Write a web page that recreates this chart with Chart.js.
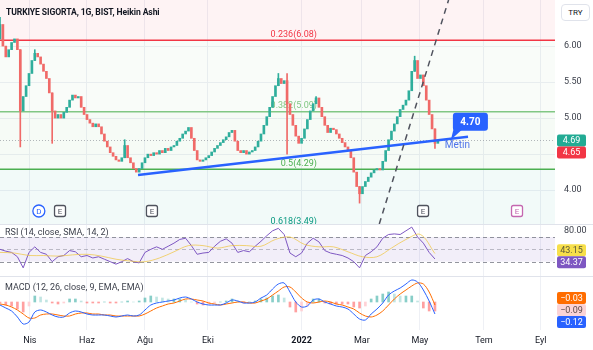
<!DOCTYPE html>
<html>
<head>
<meta charset="utf-8">
<title>TURKIYE SIGORTA, 1G, BIST</title>
<script src="https://cdn.jsdelivr.net/npm/chart.js"></script>
<style>
  body { margin: 0; background: #fff; font-family: Roboto, sans-serif; }
  #wrap { position: relative; width: 593px; height: 350px; overflow: hidden; }
  .pane { position: absolute; left: 0; width: 593px; }
  .txt { position: absolute; white-space: nowrap; color: #131722; }
  .sep { position: absolute; left: 0; width: 593px; height: 1px; background: #e0e3eb; }
</style>
</head>
<body>
<div id="wrap">
  <div class="pane" style="top:0;height:224px"><canvas id="price"></canvas></div>
  <div class="pane" style="top:225px;height:51px"><canvas id="rsi"></canvas></div>
  <div class="pane" style="top:277px;height:73px"><canvas id="macd"></canvas></div>
  <div class="sep" style="top:224px"></div>
  <div class="sep" style="top:276px"></div>
  <div class="txt" style="left:6px;top:7px;font-size:8.6px;font-weight:700;letter-spacing:-0.1px">TURKIYE SIGORTA, 1G, BIST, Heikin Ashi</div>
  <div class="txt" style="left:561px;top:4px;width:27px;height:15px;line-height:15px;text-align:center;font-size:8px;border:1px solid #e0e3eb;border-radius:4px;background:#fff">TRY</div>
  <div class="txt" style="left:5px;top:227px;font-size:9px;color:#3b3f4a">RSI (14, close, SMA, 14, 2)</div>
  <div class="txt" style="left:5px;top:282px;font-size:9px;color:#3b3f4a">MACD (12, 26, close, 9, EMA, EMA)</div>
</div>
<script>
// daily bars, two sessions per candle
const haClose = [
  6.30, 6.00, 5.85, 5.95, 6.05, 6.10, 5.95, 5.10, 5.30, 5.45,
  5.62, 5.80, 5.90, 5.85, 5.75, 5.65, 5.55, 5.35, 5.10, 5.00,
  5.05, 5.00, 5.08, 5.15, 5.25, 5.32, 5.28, 5.30, 5.15, 5.05,
  4.98, 4.93, 4.88, 4.92, 4.88, 4.78, 4.68, 4.60, 4.52, 4.47,
  4.42, 4.40, 4.45, 4.62, 4.45, 4.38, 4.30, 4.25, 4.30, 4.38,
  4.45, 4.50, 4.48, 4.52, 4.50, 4.55, 4.52, 4.58, 4.55, 4.60,
  4.62, 4.68, 4.72, 4.78, 4.82, 4.87, 4.72, 4.55, 4.42, 4.40,
  4.42, 4.45, 4.48, 4.53, 4.58, 4.62, 4.66, 4.70, 4.74, 4.80,
  4.83, 4.68, 4.55, 4.52, 4.55, 4.50, 4.53, 4.55, 4.60, 4.68,
  4.78, 4.90, 5.02, 5.15, 5.30, 5.45, 5.55, 5.48, 5.52, 5.20,
  5.05, 4.90, 4.75, 4.65, 4.72, 4.85, 4.98, 5.10, 5.20, 5.28,
  5.15, 5.02, 4.90, 4.80, 4.86, 4.84, 4.78, 4.72, 4.66, 4.60,
  4.55, 4.45, 4.25, 4.05, 3.95, 4.05, 4.12, 4.18, 4.24, 4.28,
  4.30, 4.28, 4.40, 4.55, 4.70, 4.82, 4.92, 5.02, 5.12, 5.18,
  5.25, 5.38, 5.65, 5.80, 5.55, 5.60, 5.45, 5.25, 5.05, 4.85,
  4.65, 4.69
];
const firstOpen = 6.10;
const lastClose = 4.65;
const wickLows = [[7, 4.60], [18, 4.65], [99, 4.50], [124, 3.82], [150, 4.58]];
const wickHighs = [[0, 6.40], [12, 5.95], [43, 4.70], [96, 5.62], [99, 5.62], [109, 5.30], [143, 5.86]];

// fibonacci retracement levels
const fibRatios = [0.236, 0.382, 0.5, 0.618];
const fibPrices = [6.08, 5.09, 4.29, 3.49];
const fibLabelAt = 109.3;

// drawings
const trendX = [47.6, 161.4];
const trendY = [4.21, 4.74];
const dashX = [130.8, 154.7];
const dashY = [3.53, 6.64];
const calloutX = 155.5;
const calloutValue = 4.70;
const noteX = 153.4;
const noteY = 4.62;
const noteText = 'Metin';
const eventX = [13.4, 20.7, 52.4, 145.9, 178.3];
const eventText = ['D', 'E', 'E', 'E', 'E'];

// x axis
const monthTicks = [10.3, 30, 50, 71.7, 104, 124.8, 144.8, 166.9, 186.5];
const monthLabels = ['Nis', 'Haz', 'Ağu', 'Eki', '2022', 'Mar', 'May', 'Tem', 'Eyl'];
const priceTicks = [4, 4.5, 5, 5.5, 6];

// RSI (every 2 candles) and its SMA (every 5 candles)
const rsiValues = [
  50, 47, 45, 38, 20, 45, 54, 45, 42, 30,
  38, 40, 48, 46, 38, 40, 36, 38, 34, 30,
  26, 30, 35, 30, 28, 45, 50, 54, 50, 55,
  60, 66, 68, 56, 42, 44, 45, 55, 63, 67,
  60, 45, 48, 46, 55, 63, 72, 80, 84, 74,
  44, 38, 44, 60, 68, 62, 48, 44, 42, 40,
  36, 30, 20, 40, 46, 54, 68, 74, 75, 74,
  80, 86, 70, 60, 45, 34.37
];
const rsiSma = [
  45, 44, 40, 40, 39, 41, 42, 39, 34, 31,
  30, 36, 46, 56, 56, 52, 56, 56, 55, 66,
  70, 58, 54, 54, 46, 38, 38, 52, 66, 74,
  43.15
];
const rsiLevels = [70, 50, 30];
const rsiTicks = [80];

// MACD (every 2 candles)
const macdValues = [
  -0.03, -0.06, -0.09, -0.15, -0.22, -0.20, -0.10, -0.08, -0.10, -0.13,
  -0.15, -0.15, -0.11, -0.09, -0.10, -0.12, -0.13, -0.13, -0.13, -0.14,
  -0.15, -0.14, -0.13, -0.14, -0.13, -0.08, -0.03, -0.01, 0.00, 0.01,
  0.02, 0.04, 0.05, 0.03, 0.00, -0.02, -0.03, -0.03, -0.03, -0.01,
  0.02, 0.01, -0.01, -0.01, 0.00, 0.04, 0.07, 0.13, 0.18, 0.19,
  0.10, 0.00, -0.05, -0.04, 0.02, 0.03, 0.00, -0.02, -0.04, -0.05,
  -0.07, -0.12, -0.17, -0.18, -0.12, -0.07, -0.01, 0.07, 0.11, 0.14,
  0.18, 0.22, 0.20, 0.12, 0.01, -0.12
];
const signalValues = [
  -0.02, -0.03, -0.05, -0.08, -0.12, -0.16, -0.16, -0.13, -0.12, -0.12,
  -0.13, -0.14, -0.14, -0.12, -0.11, -0.11, -0.12, -0.12, -0.13, -0.13,
  -0.14, -0.14, -0.14, -0.14, -0.14, -0.12, -0.09, -0.06, -0.04, -0.02,
  -0.01, 0.01, 0.03, 0.03, 0.02, 0.01, -0.01, -0.02, -0.03, -0.02,
  -0.01, 0.00, 0.00, -0.01, -0.01, 0.01, 0.03, 0.07, 0.11, 0.15,
  0.15, 0.10, 0.04, 0.00, -0.01, 0.00, 0.01, 0.00, -0.02, -0.03,
  -0.05, -0.07, -0.11, -0.14, -0.15, -0.13, -0.09, -0.03, 0.03, 0.08,
  0.12, 0.16, 0.19, 0.18, 0.10, -0.03
];
const histValues = [
  -0.01, -0.03, -0.04, -0.07, -0.10, -0.04, 0.06, 0.05, 0.02, -0.01,
  -0.02, -0.01, 0.03, 0.03, 0.01, -0.01, -0.01, -0.01, 0.00, -0.01,
  -0.01, 0.00, 0.01, 0.00, 0.01, 0.04, 0.06, 0.05, 0.04, 0.03,
  0.03, 0.03, 0.02, 0.00, -0.02, -0.03, -0.02, -0.01, 0.00, 0.01,
  0.03, 0.01, -0.01, 0.00, 0.01, 0.03, 0.04, 0.06, 0.07, 0.04,
  -0.05, -0.10, -0.09, -0.04, 0.03, 0.03, -0.01, -0.02, -0.02, -0.02,
  -0.02, -0.05, -0.06, -0.04, 0.03, 0.06, 0.08, 0.10, 0.08, 0.06,
  0.06, 0.06, 0.01, -0.06, -0.09, -0.09
];

const X_MAX = 191.4;
const UP = '#2fae9c', DOWN = '#f06a68';
const GRID = '#eef0f5', TEXT = '#3b3f4a';
const fibColors = ['#f23645', '#81c784', '#4caf50', '#089981'];
const zoneColors = ['rgba(242,54,69,0.06)', 'rgba(129,199,132,0.05)', 'rgba(76,175,80,0.05)', 'rgba(8,153,129,0.05)'];

Chart.defaults.font.family = 'Roboto, sans-serif';
Chart.defaults.animation = false;
Chart.defaults.plugins.legend.display = false;
Chart.defaults.plugins.tooltip.enabled = false;

function xScale(showLabels) {
  return {
    type: 'linear', min: 0, max: X_MAX, offset: false,
    afterBuildTicks: s => { s.ticks = monthTicks.map(v => ({ value: v })); },
    afterFit: s => { s.height = showLabels ? 20 : 0; s.paddingLeft = 0; s.paddingRight = 0; },
    grid: { color: GRID, drawTicks: false, offset: false },
    border: { display: false },
    ticks: {
      display: showLabels, autoSkip: false, maxRotation: 0, padding: 5, color: '#131722',
      font: c => ({ size: 9, weight: c.index === 4 ? 'bold' : 'normal' }),
      callback: (v, i) => monthLabels[i]
    }
  };
}

function yScale(min, max, ticks, fmt, showGrid) {
  return {
    position: 'right', min, max,
    afterBuildTicks: s => { s.ticks = ticks.map(v => ({ value: v })); },
    afterFit: s => { s.width = 38; s.paddingTop = 0; s.paddingBottom = 0; },
    grid: { display: showGrid, color: GRID, drawTicks: false },
    border: { display: false },
    ticks: { padding: 9, color: TEXT, font: { size: 9 }, callback: fmt }
  };
}

function tag(ctx, x, yc, text, bg, fg) {
  ctx.fillStyle = bg;
  ctx.beginPath();
  ctx.roundRect(x, yc - 6, 29, 12, 2);
  ctx.fill();
  ctx.fillStyle = fg;
  ctx.font = '9px Roboto';
  ctx.textAlign = 'center';
  ctx.textBaseline = 'middle';
  ctx.fillText(text, x + 14.5, yc + 0.5);
}

function spread(ys, h) {
  const m = ys.reduce((a, b) => a + b, 0) / ys.length;
  return ys.map((_, k) => m + (k - (ys.length - 1) / 2) * h);
}

const fmtNeg = v => (v < 0 ? '\u2212' : '') + Math.abs(v).toFixed(2);

// candles
const opens = haClose.map((c, i) => i === 0 ? firstOpen : haClose[i - 1]);
const bodies = haClose.map((c, i) => ({ x: i, y: [opens[i], c] }));
const bodyColors = haClose.map((c, i) => c >= opens[i] ? UP : DOWN);
const wicks = [];
haClose.forEach((c, i) => {
  const lo = wickLows.find(w => w[0] === i);
  const hi = wickHighs.find(w => w[0] === i);
  if (!lo && !hi) return;
  wicks.push({ x: i, y: [lo ? lo[1] : Math.min(opens[i], c), hi ? hi[1] : Math.max(opens[i], c)] });
});
const wickColors = wicks.map(w => bodyColors[w.x]);

const priceDecor = {
  id: 'priceDecor',
  beforeDatasetsDraw(chart) {
    const { ctx, chartArea: a, scales: { x, y } } = chart;
    ctx.save();
    ctx.beginPath();
    ctx.rect(a.left, a.top, a.width, a.height);
    ctx.clip();
    fibPrices.forEach((p, k) => {
      const top = y.getPixelForValue(k === 0 ? y.max : fibPrices[k - 1]);
      const bot = y.getPixelForValue(p);
      ctx.fillStyle = zoneColors[k];
      ctx.fillRect(a.left, top, a.width, bot - top);
    });
    ctx.font = '9px Roboto';
    ctx.textAlign = 'right';
    ctx.textBaseline = 'bottom';
    fibPrices.forEach((p, k) => {
      ctx.fillStyle = fibColors[k];
      ctx.fillText(fibRatios[k] + '(' + p.toFixed(2) + ')', x.getPixelForValue(fibLabelAt), y.getPixelForValue(p) - 1);
    });
    // last price line
    const yp = Math.round(y.getPixelForValue(haClose[haClose.length - 1])) + 0.5;
    ctx.strokeStyle = 'rgba(120,123,134,0.55)';
    ctx.setLineDash([1, 2]);
    ctx.lineWidth = 1;
    ctx.beginPath();
    ctx.moveTo(a.left, yp);
    ctx.lineTo(a.right, yp);
    ctx.stroke();
    ctx.restore();
  },
  afterDatasetsDraw(chart) {
    const { ctx, chartArea: a, scales: { x, y } } = chart;
    ctx.save();
    // earnings / dividend markers
    const my = a.bottom - 13;
    eventX.forEach((v, k) => {
      const px = x.getPixelForValue(v);
      const pink = k === eventX.length - 1;
      const col = eventText[k] === 'D' ? '#2962ff' : (pink ? '#c467b0' : '#50535e');
      ctx.fillStyle = '#fff';
      ctx.strokeStyle = col;
      ctx.lineWidth = 1.3;
      ctx.beginPath();
      if (eventText[k] === 'D') ctx.arc(px, my, 6, 0, Math.PI * 2);
      else ctx.roundRect(px - 5.5, my - 5.5, 11, 11, 2);
      ctx.fill();
      ctx.stroke();
      ctx.fillStyle = col;
      ctx.font = '8px Roboto';
      ctx.textAlign = 'center';
      ctx.textBaseline = 'middle';
      ctx.fillText(eventText[k], px, my + 0.5);
    });
    // price callout on the trend line
    const ax = x.getPixelForValue(calloutX), ay = y.getPixelForValue(calloutValue);
    ctx.fillStyle = '#2962ff';
    ctx.beginPath();
    ctx.roundRect(ax + 2, ay - 27, 35, 18, 3);
    ctx.fill();
    ctx.beginPath();
    ctx.moveTo(ax + 3, ay - 12);
    ctx.lineTo(ax, ay);
    ctx.lineTo(ax + 11, ay - 10);
    ctx.fill();
    ctx.fillStyle = '#fff';
    ctx.font = 'bold 10px Roboto';
    ctx.textAlign = 'center';
    ctx.textBaseline = 'middle';
    ctx.fillText(calloutValue.toFixed(2), ax + 19.5, ay - 17.5);
    ctx.fillStyle = '#4f74ea';
    ctx.font = '10px Roboto';
    ctx.textAlign = 'left';
    ctx.fillText(noteText, x.getPixelForValue(noteX), y.getPixelForValue(noteY));
    ctx.restore();
  },
  afterDraw(chart) {
    const { ctx, chartArea: a, scales: { y } } = chart;
    const y1 = y.getPixelForValue(haClose[haClose.length - 1]);
    const y2 = Math.max(y.getPixelForValue(lastClose), y1 + 12);
    ctx.save();
    tag(ctx, a.right + 2, y1, haClose[haClose.length - 1].toFixed(2), '#22ab94', '#fff');
    tag(ctx, a.right + 2, y2, lastClose.toFixed(2), '#f23645', '#fff');
    ctx.restore();
  }
};

new Chart(document.getElementById('price'), {
  type: 'bar',
  data: {
    datasets: [
      ...fibPrices.map((p, k) => ({
        type: 'line', order: 6, data: [{ x: 0, y: p }, { x: X_MAX, y: p }],
        borderColor: fibColors[k], borderWidth: 1.5, pointRadius: 0, clip: 0
      })),
      { data: wicks, backgroundColor: wickColors, barThickness: 1, grouped: false, order: 5 },
      { data: bodies, backgroundColor: bodyColors, barThickness: 2, minBarLength: 1, grouped: false, order: 4 },
      {
        type: 'line', order: 2, data: trendX.map((v, k) => ({ x: v, y: trendY[k] })),
        borderColor: '#2962ff', borderWidth: 2.5, pointRadius: 0, clip: 0
      },
      {
        type: 'line', order: 1, data: dashX.map((v, k) => ({ x: v, y: dashY[k] })),
        borderColor: '#50535e', borderWidth: 1.5, borderDash: [6, 5], pointRadius: 0, clip: 0
      }
    ]
  },
  options: {
    responsive: true, maintainAspectRatio: false,
    layout: { padding: 0 },
    scales: {
      x: xScale(false),
      y: yScale(3.53, 6.64, priceTicks, v => v === 4.5 ? '' : v.toFixed(2), true)
    }
  },
  plugins: [priceDecor]
});

const rsiDecor = {
  id: 'rsiDecor',
  beforeDatasetsDraw(chart) {
    const { ctx, chartArea: a, scales: { y } } = chart;
    ctx.save();
    const top = y.getPixelForValue(rsiLevels[0]), bot = y.getPixelForValue(rsiLevels[2]);
    ctx.fillStyle = 'rgba(126,87,194,0.1)';
    ctx.fillRect(a.left, top, a.width, bot - top);
    ctx.setLineDash([4, 3]);
    ctx.lineWidth = 1;
    rsiLevels.forEach((v, k) => {
      const py = Math.round(y.getPixelForValue(v)) + 0.5;
      ctx.strokeStyle = k === 1 ? 'rgba(120,123,134,0.45)' : 'rgba(120,123,134,0.8)';
      ctx.beginPath();
      ctx.moveTo(a.left, py);
      ctx.lineTo(a.right, py);
      ctx.stroke();
    });
    ctx.restore();
  },
  afterDraw(chart) {
    const { ctx, chartArea: a, scales: { y } } = chart;
    const vals = [rsiSma[rsiSma.length - 1], rsiValues[rsiValues.length - 1]];
    const ys = spread(vals.map(v => y.getPixelForValue(v)), 12);
    ctx.save();
    tag(ctx, a.right + 2, ys[0], vals[0].toFixed(2), '#f7df4a', '#5d5a3a');
    tag(ctx, a.right + 2, ys[1], vals[1].toFixed(2), '#7e57c2', '#fff');
    ctx.restore();
  }
};

new Chart(document.getElementById('rsi'), {
  type: 'line',
  data: {
    datasets: [
      {
        data: rsiSma.map((v, k) => ({ x: k * 5, y: v })),
        borderColor: 'rgba(240,196,60,0.7)', borderWidth: 1, pointRadius: 0, tension: 0.35
      },
      {
        data: rsiValues.map((v, k) => ({ x: k * 2, y: v })),
        borderColor: '#7e57c2', borderWidth: 1, pointRadius: 0, tension: 0
      }
    ]
  },
  options: {
    responsive: true, maintainAspectRatio: false,
    layout: { padding: 0 },
    scales: {
      x: xScale(false),
      y: yScale(6.8, 89.4, rsiTicks, v => v.toFixed(2), false)
    }
  },
  plugins: [rsiDecor]
});

const histColors = histValues.map((v, k) => {
  const prev = k === 0 ? 0 : histValues[k - 1];
  if (v >= 0) return v >= prev ? 'rgba(38,166,154,0.55)' : 'rgba(178,223,219,0.8)';
  return v <= prev ? 'rgba(255,82,82,0.55)' : 'rgba(255,205,210,0.9)';
});

const macdDecor = {
  id: 'macdDecor',
  afterDraw(chart) {
    const { ctx, chartArea: a, scales: { y } } = chart;
    const vals = [signalValues[signalValues.length - 1], histValues[histValues.length - 1], macdValues[macdValues.length - 1]];
    const ys = spread(vals.map(v => y.getPixelForValue(v)), 12);
    ctx.save();
    tag(ctx, a.right + 2, ys[0], fmtNeg(vals[0]), '#ff6d00', '#fff');
    tag(ctx, a.right + 2, ys[1], fmtNeg(vals[1]), '#fbd3d6', '#5d4a4c');
    tag(ctx, a.right + 2, ys[2], fmtNeg(vals[2]), '#2962ff', '#fff');
    ctx.restore();
  }
};

new Chart(document.getElementById('macd'), {
  type: 'bar',
  data: {
    datasets: [
      {
        data: histValues.map((v, k) => ({ x: k * 2, y: v })),
        backgroundColor: histColors, barThickness: 2, grouped: false, order: 3
      },
      {
        type: 'line', order: 2, data: signalValues.map((v, k) => ({ x: k * 2, y: v })),
        borderColor: '#ff6d00', borderWidth: 1, pointRadius: 0, tension: 0.3
      },
      {
        type: 'line', order: 1, data: macdValues.map((v, k) => ({ x: k * 2, y: v })),
        borderColor: '#2962ff', borderWidth: 1, pointRadius: 0, tension: 0.3
      }
    ]
  },
  options: {
    responsive: true, maintainAspectRatio: false,
    layout: { padding: 0 },
    scales: {
      x: xScale(true),
      y: yScale(-0.28, 0.25, [], v => '', false)
    }
  },
  plugins: [macdDecor]
});
</script>
</body>
</html>
